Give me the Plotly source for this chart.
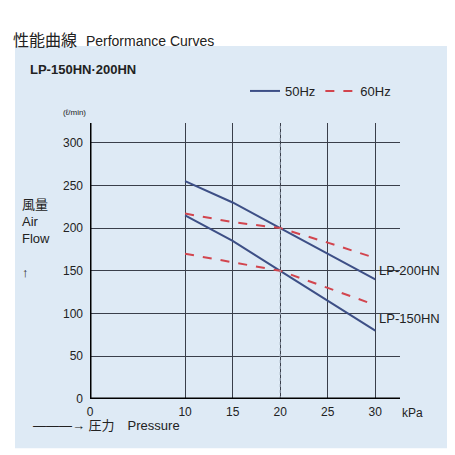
import plotly.graph_objects as go

pressure = [10, 15, 20, 25, 30]
lp200_50 = [255, 230, 200, 170, 140]
lp200_60 = [217, 207, 200, 183, 165]
lp150_50 = [215, 185, 150, 115, 80]
lp150_60 = [170, 160, 150, 130, 110]
x_ticks = [0, 10, 15, 20, 25, 30]
y_ticks = [0, 50, 100, 150, 200, 250, 300]

BLUE = "#3d4f86"
RED = "#d2454e"
BG = "#deeaf5"
FONT = "Liberation Sans, Noto Sans CJK JP"

fig = go.Figure()
fig.add_trace(go.Scatter(x=pressure, y=lp200_50, mode="lines", name="50Hz",
                         line=dict(color=BLUE, width=2)))
fig.add_trace(go.Scatter(x=pressure, y=lp200_60, mode="lines", name="60Hz",
                         line=dict(color=RED, width=2, dash="dash")))
fig.add_trace(go.Scatter(x=pressure, y=lp150_50, mode="lines", showlegend=False,
                         line=dict(color=BLUE, width=2)))
fig.add_trace(go.Scatter(x=pressure, y=lp150_60, mode="lines", showlegend=False,
                         line=dict(color=RED, width=2, dash="dash")))

# panel background
fig.add_shape(type="rect", xref="paper", yref="paper", x0=-0.242, x1=1.174,
              y0=-0.178, y1=1.279, fillcolor=BG, line_width=0, layer="below")
fig.add_vline(x=20, line=dict(color="#9aa8b8", width=1, dash="dot"))

fig.add_annotation(x=30, y=165, text="LP-200HN", showarrow=False, xanchor="left",
                   xshift=2, yshift=-12, font=dict(size=13, color="#222"))
fig.add_annotation(x=30, y=80, text="LP-150HN", showarrow=False, xanchor="left",
                   xshift=2, yshift=12, font=dict(size=13, color="#222"))
fig.add_annotation(x=32.6, y=0, text="kPa", showarrow=False, xanchor="left", yshift=-14,
                   font=dict(size=12, color="#222"))
fig.add_annotation(xref="paper", yref="paper", x=-0.005, y=1.06, text="(ℓ/min)",
                   showarrow=False, xanchor="right", font=dict(size=8, color="#222"))
fig.add_annotation(xref="paper", yref="paper", x=-0.226, y=0.74,
                   text="風量<br>Air<br>Flow<br><br>↑", showarrow=False, xanchor="left",
                   yanchor="top", align="left", font=dict(size=13, color="#222"))
fig.add_annotation(xref="paper", yref="paper", x=-0.19, y=-0.13,
                   text="———→ 圧力　Pressure", showarrow=False, xanchor="left",
                   font=dict(size=13, color="#222"))
fig.add_annotation(xref="paper", yref="paper", x=-0.2, y=1.228,
                   text="<b>LP-150HN·200HN</b>", showarrow=False, xanchor="left",
                   font=dict(size=13, color="#222"))
fig.add_annotation(xref="paper", yref="paper", x=-0.255, y=1.338,
                   text="性能曲線  <span style='font-size:14px'>Performance Curves</span>",
                   showarrow=False, xanchor="left", font=dict(size=16, color="#222"))

fig.update_layout(
    width=455, height=455,
    margin=dict(l=82, r=63, t=115, b=64, autoexpand=False),
    paper_bgcolor="white", plot_bgcolor=BG,
    font=dict(family=FONT, size=12, color="#222"),
    legend=dict(orientation="h", x=0.5, y=1.116, xanchor="left", yanchor="middle",
                bgcolor="rgba(0,0,0,0)", font=dict(size=13)),
    xaxis=dict(range=[0, 32.6], tickvals=x_ticks, showgrid=True, gridcolor="#3a3f4a",
               gridwidth=1, zeroline=False, showline=False, ticks="", ticklabelstandoff=4),
    yaxis=dict(range=[0, 323], tickvals=y_ticks, showgrid=True, gridcolor="#3a3f4a",
               gridwidth=1, zeroline=False, ticks="", ticklabelstandoff=6),
)
fig.add_vline(x=0, line=dict(color="black", width=3))
fig.add_hline(y=0, line=dict(color="black", width=3))

fig.write_html("out.html")
